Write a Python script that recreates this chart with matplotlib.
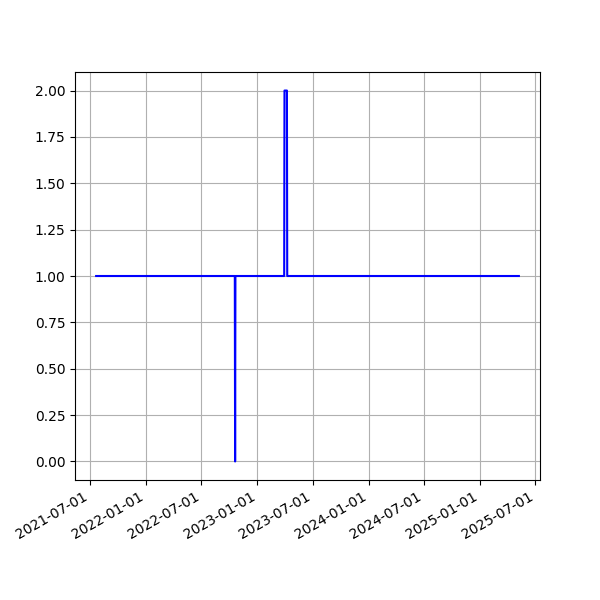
import matplotlib
matplotlib.use("Agg")
import matplotlib.pyplot as plt
import matplotlib.dates as mdates
import numpy as np

# points where the value changes (value held at 1 elsewhere)
dates = np.array([
    "2021-07-21", "2022-10-19", "2022-10-20", "2022-10-21",
    "2023-03-30", "2023-03-31", "2023-04-08", "2023-04-09",
    "2025-05-08",
], dtype="datetime64[D]")
values = [1, 1, 0, 1, 1, 2, 2, 1, 1]

fig, ax = plt.subplots(figsize=(6, 6), dpi=100)
ax.plot(dates, values, color="blue")
ax.grid(True)
ax.xaxis.set_major_formatter(mdates.DateFormatter("%Y-%m-%d"))
fig.autofmt_xdate()
fig.savefig("out.png")
